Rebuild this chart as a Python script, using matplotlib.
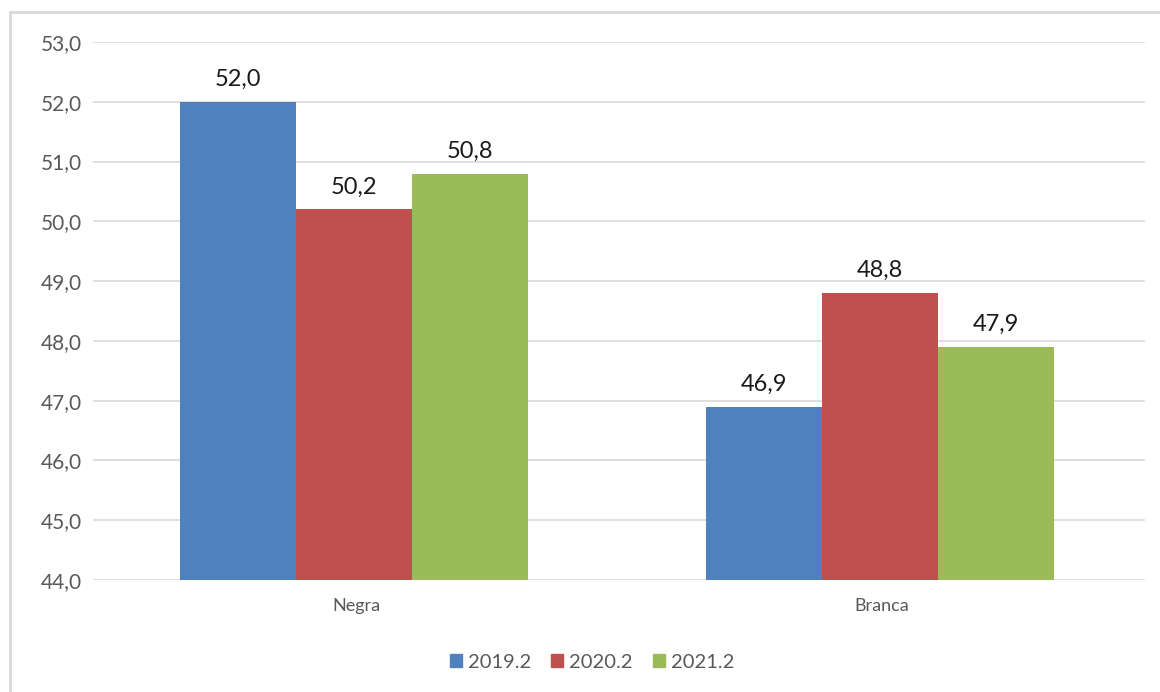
import matplotlib
matplotlib.use("Agg")
import matplotlib.pyplot as plt
import numpy as np
from matplotlib.patches import Rectangle, Patch

categories = ["Negra", "Branca"]
series_names = ["2019.2", "2020.2", "2021.2"]
values_2019 = [52.0, 46.9]
values_2020 = [50.2, 48.8]
values_2021 = [50.8, 47.9]
y_ticks = [44, 45, 46, 47, 48, 49, 50, 51, 52, 53]

colors = ["#4F81BD", "#C0504D", "#9BBB59"]
text_gray = "#595959"
grid_gray = "#d9d9d9"

plt.rcParams["font.family"] = ["Lato", "DejaVu Sans"]

fig = plt.figure(figsize=(11.6, 6.92), dpi=100)
ax = fig.add_axes([93 / 1160, 1 - 580 / 692, (1145 - 93) / 1160, (580 - 42) / 692])

# outer chart border (runs off the right/bottom edge like the screenshot)
fig.patches.append(Rectangle((10 / 1160, -0.2), 1.2, 1.2 - 12 / 692,
                             transform=fig.transFigure, fill=False,
                             edgecolor=grid_gray, linewidth=2))

x = np.arange(len(categories))
width = 0.221
base = 44.0
all_series = [values_2019, values_2020, values_2021]
for i, (vals, name, col) in enumerate(zip(all_series, series_names, colors)):
    pos = x + (i - 1) * width - 0.004
    heights = [v - base for v in vals]
    ax.bar(pos, heights, width=width, bottom=base, color=col, label=name, zorder=3)
    for px, v in zip(pos, vals):
        ax.text(px, v + 0.2, f"{v:.1f}".replace(".", ","), ha="center", va="bottom",
                fontsize=17, color="#1a1a1a", zorder=4)

ax.set_xlim(-0.5, 1.5)
ax.set_ylim(44, 53)
ax.set_yticks(y_ticks)
ax.set_yticklabels([f"{t:.1f}".replace(".", ",") for t in y_ticks], fontsize=15, color=text_gray)
ax.set_xticks(x)
ax.set_xticklabels(categories, fontsize=13, color=text_gray)
ax.tick_params(axis="both", length=0)
ax.tick_params(axis="y", pad=8)
ax.tick_params(axis="x", pad=13)
for s in ax.spines.values():
    s.set_visible(False)
ax.yaxis.grid(True, color=grid_gray, linewidth=1.2, zorder=0)
ax.set_axisbelow(True)

handles = [Patch(facecolor=c, edgecolor=c) for c in colors]
leg = fig.legend(handles, series_names, loc="center", bbox_to_anchor=(592 / 1160, 1 - 662 / 692),
                 ncol=3, frameon=False, fontsize=14.5, handlelength=0.6, handleheight=0.6,
                 handletextpad=0.3, columnspacing=1.0)
for t in leg.get_texts():
    t.set_color(text_gray)

fig.savefig("out.png", dpi=100)
